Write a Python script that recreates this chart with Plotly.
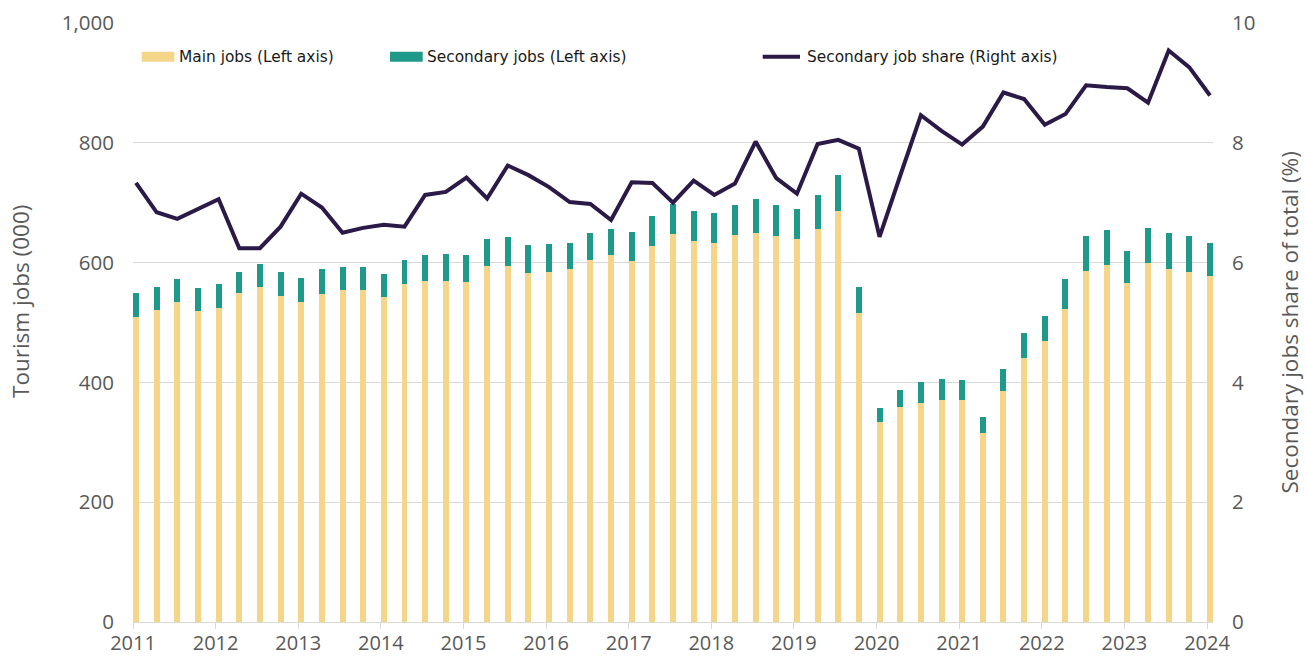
import plotly.graph_objects as go

# ---------------- data ----------------
quarters = [f"{y}Q{q}" for y in range(2011, 2024) for q in range(1, 5)] + ["2024Q1"]

main_jobs = [510, 521, 534, 519, 525, 549, 560, 545, 534, 548, 554, 554, 543, 564, 569, 570,
             567, 594, 594, 582, 585, 589, 604, 612, 603, 628, 648, 636, 633, 646, 649, 645,
             640, 656, 686, 516, 334, 359, 366, 371, 371, 315, 385, 441, 469, 522, 586, 596,
             566, 599, 589, 585, 577]

total_jobs = [550, 560, 573, 558, 565, 585, 597, 584, 575, 589, 593, 593, 581, 604, 612, 614,
              612, 639, 643, 629, 631, 633, 649, 656, 651, 678, 698, 686, 682, 697, 706, 697,
              690, 713, 746, 560, 358, 388, 400, 405, 404, 343, 423, 483, 511, 572, 644, 655,
              620, 657, 650, 644, 632]

secondary_jobs = [t - m for t, m in zip(total_jobs, main_jobs)]

secondary_share = [7.33, 6.84, 6.73, 6.89, 7.06, 6.24, 6.24, 6.6, 7.15, 6.92, 6.5, 6.58, 6.63, 6.6,
                   7.13, 7.18, 7.42, 7.07, 7.62, 7.46, 7.26, 7.01, 6.98, 6.71, 7.34, 7.33, 7.0,
                   7.37, 7.13, 7.32, 8.02, 7.41, 7.15, 7.98, 8.05, 7.9, 6.43, 7.45, 8.46, 8.2,
                   7.97, 8.27, 8.84, 8.73, 8.3, 8.48, 8.96, 8.93, 8.91, 8.67, 9.54, 9.26, 8.79]

year_ticks = list(range(2011, 2025))

# ---------------- styling ----------------
C_MAIN = "#F5D58A"
C_SEC = "#1F9A8A"
C_LINE = "#2B1A47"
GRID = "#D9D9D9"
TICK_COL = "#595959"
BAR_W = 0.0725

x_num = [int(q[:4]) + (int(q[-1]) - 1) / 4 for q in quarters]
x_line = [x + BAR_W / 2 for x in x_num]

fig = go.Figure()
fig.add_trace(go.Bar(x=x_num, y=main_jobs, name="Main jobs (Left axis)",
                     marker=dict(color=C_MAIN, line=dict(width=0)),
                     width=BAR_W, offset=0, showlegend=False))
fig.add_trace(go.Bar(x=x_num, y=secondary_jobs, name="Secondary jobs (Left axis)",
                     marker=dict(color=C_SEC, line=dict(width=0)),
                     width=BAR_W, offset=0, showlegend=False))
fig.add_trace(go.Scatter(x=x_line, y=secondary_share, name="Secondary job share (Right axis)",
                         mode="lines", line=dict(color=C_LINE, width=4),
                         yaxis="y2", showlegend=False))

W, H = 1306, 657
L, R, T, B = 133, 93, 23, 35
PW, PH = W - L - R, H - T - B


def px(xp):
    return (xp - L) / PW


def py(yp):
    return (H - B - yp) / PH


shapes = [
    dict(type="rect", xref="paper", yref="paper", x0=px(141.7), x1=px(174.3), y0=py(61.7), y1=py(51.7),
         fillcolor=C_MAIN, line=dict(width=0)),
    dict(type="rect", xref="paper", yref="paper", x0=px(390), x1=px(422.7), y0=py(61.7), y1=py(51.7),
         fillcolor=C_SEC, line=dict(width=0)),
    dict(type="line", xref="paper", yref="paper", x0=px(762.7), x1=px(800), y0=py(56.7), y1=py(56.7),
         line=dict(color=C_LINE, width=4)),
]

leg_font = dict(family="DejaVu Sans", size=15.4, color="#1A1A1A")
title_font = dict(family="Open Sans", size=22.5, color=TICK_COL)
annotations = [
    dict(text="Main jobs (Left axis)", x=px(177), y=py(56.5), xref="paper", yref="paper",
         xanchor="left", yanchor="middle", showarrow=False, font=leg_font),
    dict(text="Secondary jobs (Left axis)", x=px(425), y=py(56.5), xref="paper", yref="paper",
         xanchor="left", yanchor="middle", showarrow=False, font=leg_font),
    dict(text="Secondary job share (Right axis)", x=px(805), y=py(56.5), xref="paper", yref="paper",
         xanchor="left", yanchor="middle", showarrow=False, font=leg_font),
    dict(text="Tourism jobs (000)", x=px(20), y=py(302), xref="paper", yref="paper",
         xanchor="center", yanchor="middle", textangle=-90, showarrow=False, font=title_font),
    dict(text="Secondary jobs share of total (%)", x=px(1306), y=py(323), xref="paper", yref="paper",
         xanchor="right", yanchor="middle", textangle=-90, showarrow=False, font=title_font),
]

tick_font = dict(family="Open Sans", size=20.5, color=TICK_COL)
xtick_font = dict(family="Open Sans", size=20, color=TICK_COL)

fig.update_layout(
    width=W, height=H,
    margin=dict(l=L, r=R, t=T, b=B, pad=0, autoexpand=False),
    barmode="stack",
    plot_bgcolor="white", paper_bgcolor="white",
    showlegend=False,
    shapes=shapes,
    annotations=annotations,
    xaxis=dict(range=[2011, 2024 + BAR_W], tickmode="array", tickvals=year_ticks,
               ticktext=[str(y) for y in year_ticks], showgrid=False, zeroline=False,
               showline=True, linecolor=GRID, linewidth=1, ticks="outside", ticklen=6,
               tickcolor=GRID, tickfont=xtick_font, automargin=False, ticklabelstandoff=-3),
    yaxis=dict(range=[0, 1000], dtick=200, tickformat=",", showgrid=True, gridcolor=GRID,
               gridwidth=1, zeroline=False, showline=False, ticks="", tickfont=tick_font,
               ticklabelstandoff=18, automargin=False),
    yaxis2=dict(range=[0, 10], dtick=2, overlaying="y", side="right", showgrid=False,
                zeroline=False, showline=False, ticks="", tickfont=tick_font,
                ticklabelstandoff=18, automargin=False),
    bargap=0,
)

fig.write_html("out.html", config={"displayModeBar": False},
               post_script="document.body.style.margin='0px';document.body.style.overflow='hidden';")
